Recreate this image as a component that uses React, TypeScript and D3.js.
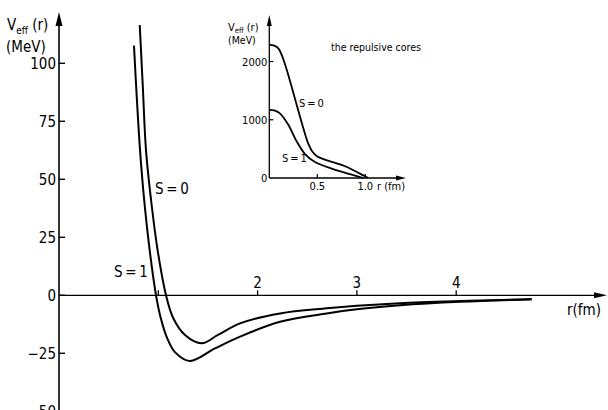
import React from "react";
import * as d3 from "d3";

// main plot: effective potential (MeV) vs r (fm)
const s1Main: [number, number][] = [
  [0.755, 107.6], [0.785, 84], [0.816, 62.6], [0.858, 41], [0.913, 19.5],
  [0.977, 0], [1.026, -10], [1.087, -18.2], [1.17, -24.6], [1.319, -28.3],
  [1.571, -22.9], [1.823, -17.8], [2.226, -11.4], [2.696, -7.8], [3.0, -6.0],
  [3.434, -4.3], [4.04, -2.8], [4.76, -1.7],
];
const s0Main: [number, number][] = [
  [0.813, 116.5], [0.844, 90], [0.876, 62.6], [0.93, 40], [0.993, 19.5],
  [1.078, 0], [1.151, -9.9], [1.269, -17.1], [1.437, -20.7], [1.601, -17.1],
  [1.823, -12.1], [2.226, -7.8], [2.696, -5.6], [3.0, -4.5], [3.434, -3.4],
  [4.04, -2.5], [4.76, -1.7],
];
const yTicksMain = [100, 75, 50, 25, 0, -25, -50];
const xTicksMain = [1, 2, 3, 4];
const xTickLabelsMain = ["", "2", "3", "4"];

// inset: the repulsive cores
const s0Inset: [number, number][] = [
  [0, 2286], [0.05, 2272], [0.094, 2225], [0.13, 2110], [0.162, 1960],
  [0.215, 1670], [0.285, 1257], [0.354, 857], [0.406, 590], [0.45, 450],
  [0.5, 370], [0.58, 314], [0.789, 201], [0.997, 29], [1.03, 0],
];
const s1Inset: [number, number][] = [
  [0, 1171], [0.05, 1160], [0.11, 1110], [0.198, 914], [0.285, 629], [0.372, 410],
  [0.476, 274], [0.65, 160], [0.858, 57], [0.98, 0],
];
const yTicksInset = [0, 1000, 2000];
const xTicksInset = [0.5, 1.0];

const font = "'DejaVu Sans Condensed', 'Liberation Sans Narrow', sans-serif";

export default function App() {
  const x = d3.scaleLinear().domain([0, 5]).range([59, 555.5]);
  const y = d3.scaleLinear().domain([-25, 100]).range([353.3, 63.3]);
  const xi = d3.scaleLinear().domain([0, 1]).range([269.3, 365.3]);
  const yi = d3.scaleLinear().domain([0, 2000]).range([178, 61.5]);

  const line = d3
    .line<[number, number]>()
    .x((d) => x(d[0]))
    .y((d) => y(d[1]))
    .curve(d3.curveCatmullRom.alpha(0.5));
  const lineI = d3
    .line<[number, number]>()
    .x((d) => xi(d[0]))
    .y((d) => yi(d[1]))
    .curve(d3.curveCatmullRom.alpha(0.5));

  const x0 = x(0);
  const y0 = y(0);

  return (
    <svg
      width={608}
      height={410}
      style={{ position: "absolute", left: 0, top: 0, background: "#fff" }}
      fontFamily={font}
    >
      {/* main axes */}
      <line x1={x0} y1={410} x2={x0} y2={20} stroke="#000" strokeWidth={1.6} />
      <path d={`M${x0 - 3.5},${26} L${x0},${12} L${x0 + 3.5},${26} Z`} fill="#000" />
      <line x1={x0} y1={y0} x2={600} y2={y0} stroke="#000" strokeWidth={1.3} />
      <path d={`M${594},${y0 - 3} L${607},${y0} L${594},${y0 + 3} Z`} fill="#000" />

      {yTicksMain.map((t) => (
        <g key={t}>
          <line x1={x0} x2={x0 + 6} y1={y(t)} y2={y(t)} stroke="#000" strokeWidth={1.4} />
          <text x={x0 - 3} y={y(t) + 5.5} fontSize={15} textAnchor="end">
            {t < 0 ? "\u2212" + Math.abs(t) : t}
          </text>
        </g>
      ))}
      {xTicksMain.map((t, i) => (
        <g key={t}>
          <line x1={x(t)} x2={x(t)} y1={y0} y2={y0 - 5} stroke="#000" strokeWidth={1.3} />
          <text x={x(t)} y={y0 - 7} fontSize={15} textAnchor="middle">
            {xTickLabelsMain[i]}
          </text>
        </g>
      ))}

      <text x={7} y={30} fontSize={15}>
        V<tspan fontSize={10} dy={4}>eff</tspan>
        <tspan dy={-4}> (r)</tspan>
      </text>
      <text x={6} y={52} fontSize={15}>(MeV)</text>
      <text x={567} y={315} fontSize={15}>r(fm)</text>

      <path d={line(s1Main) ?? ""} fill="none" stroke="#000" strokeWidth={2} />
      <path d={line(s0Main) ?? ""} fill="none" stroke="#000" strokeWidth={2} />
      <text x={155} y={194} fontSize={15}>S{"\u2009"}={"\u2009"}0</text>
      <text x={114} y={277} fontSize={15}>S{"\u2009"}={"\u2009"}1</text>

      {/* inset */}
      <line x1={xi(0)} y1={yi(0)} x2={xi(0)} y2={22} stroke="#000" strokeWidth={1.3} />
      <path d={`M${xi(0) - 2.5},${26} L${xi(0)},${15} L${xi(0) + 2.5},${26} Z`} fill="#000" />
      <line x1={xi(0)} y1={yi(0)} x2={400} y2={yi(0)} stroke="#000" strokeWidth={1.3} />
      <path d={`M${396},${yi(0) - 2.5} L${406},${yi(0)} L${396},${yi(0) + 2.5} Z`} fill="#000" />
      {yTicksInset.map((t) => (
        <g key={t}>
          {t > 0 && (
            <line x1={xi(0)} x2={xi(0) + 4} y1={yi(t)} y2={yi(t)} stroke="#000" strokeWidth={1.2} />
          )}
          <text x={xi(0) - 2} y={yi(t) + 4} fontSize={11} textAnchor="end">{t}</text>
        </g>
      ))}
      {xTicksInset.map((t) => (
        <g key={t}>
          <line x1={xi(t)} x2={xi(t)} y1={yi(0)} y2={yi(0) - 4} stroke="#000" strokeWidth={1.2} />
          <text x={xi(t)} y={yi(0) + 12} fontSize={11} textAnchor="middle">{t.toFixed(1)}</text>
        </g>
      ))}
      <text x={377} y={190} fontSize={11}>r (fm)</text>
      <text x={228} y={31} fontSize={11}>
        V<tspan fontSize={7.5} dy={2}>eff</tspan>
        <tspan dy={-2}> (r)</tspan>
      </text>
      <text x={228} y={44} fontSize={10.5}>(MeV)</text>
      <text x={331} y={51} fontSize={10.5}>the repulsive cores</text>

      <path d={lineI(s0Inset) ?? ""} fill="none" stroke="#000" strokeWidth={1.8} />
      <path d={lineI(s1Inset) ?? ""} fill="none" stroke="#000" strokeWidth={1.8} />
      <text x={299} y={107} fontSize={11}>S{"\u2009"}={"\u2009"}0</text>
      <text x={282} y={162} fontSize={11}>S{"\u2009"}={"\u2009"}1</text>
    </svg>
  );
}
